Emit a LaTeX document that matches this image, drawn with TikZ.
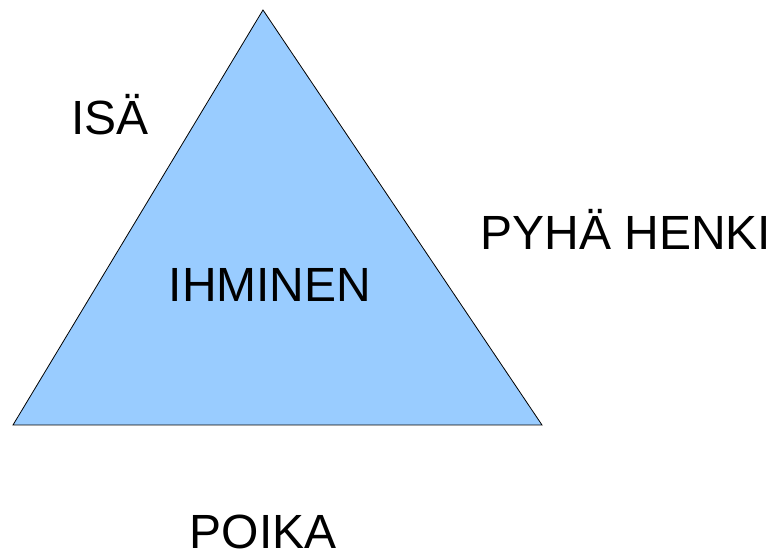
\documentclass[tikz,border=0pt]{standalone}
\usepackage{fontspec}
\setmainfont{Liberation Sans}
\definecolor{tribg}{HTML}{99CCFF}
\begin{document}
\begin{tikzpicture}[x=1pt,y=1pt,
  lbl/.style={anchor=base,inner sep=0pt,font=\fontsize{48}{56}\selectfont}]
\useasboundingbox (0,0) rectangle (774,559);
\coordinate (apex) at (263,549);
\coordinate (bl) at (13,134);
\coordinate (br) at (542,134);
\draw[fill=tribg,line width=0.8pt] (apex) -- (bl) -- (br) -- cycle;
\node[lbl] (isa) at (110,424) {ISÄ};
\node[lbl] (ihminen) at (270,257) {IHMINEN};
\node[lbl] (henki) at (626,309) {PYHÄ HENKI};
\node[lbl] (poika) at (263,10) {POIKA};
\end{tikzpicture}
\end{document}
